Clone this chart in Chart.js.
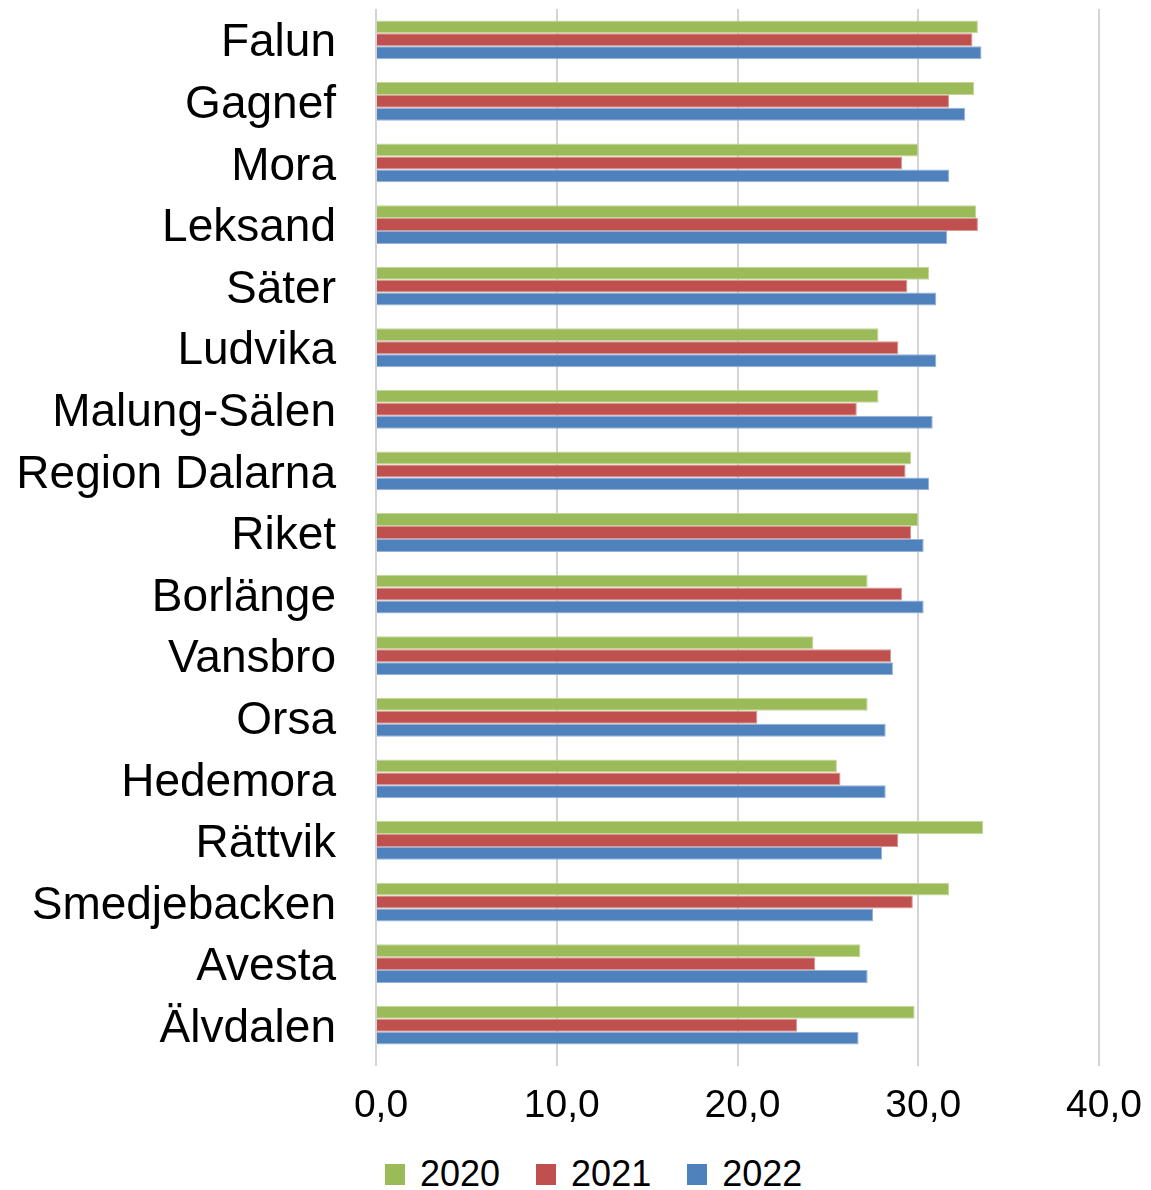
<!DOCTYPE html>
<html lang="sv">
<head>
<meta charset="utf-8">
<title>Dalarna 2020–2022</title>
<script src="https://cdn.jsdelivr.net/npm/chart.js@4/dist/chart.umd.min.js"></script>
<style>
  html, body { margin: 0; padding: 0; background: #fff; }
  #wrap { position: relative; width: 1151px; height: 1190px; }
  #plot { position: absolute; left: 0; top: 0; width: 1151px; height: 1140px; }
  #legend {
    position: absolute; left: 385px; top: 1140px; height: 68px;
    display: flex; align-items: center; gap: 36px;
    font-family: 'Liberation Sans', Arial, Helvetica, sans-serif;
    font-size: 36px; line-height: 1; color: #000;
  }
  #legend .item { display: flex; align-items: center; }
  #legend .box { width: 20px; height: 21px; margin-right: 15px; }
</style>
</head>
<body>
<div id="wrap">
  <div id="plot"><canvas id="chart"></canvas></div>
  <div id="legend"></div>
</div>
<script>
// ---------- data ----------
const kommuner = [
  "Falun", "Gagnef", "Mora", "Leksand", "Säter", "Ludvika", "Malung-Sälen",
  "Region Dalarna", "Riket", "Borlänge", "Vansbro", "Orsa", "Hedemora",
  "Rättvik", "Smedjebacken", "Avesta", "Älvdalen"
];
const years = ["2020", "2021", "2022"];
const values2020 = [33.3, 33.1, 30.0, 33.2, 30.6, 27.8, 27.8, 29.6, 30.0, 27.2, 24.2, 27.2, 25.5, 33.6, 31.7, 26.8, 29.8];
const values2021 = [33.0, 31.7, 29.1, 33.3, 29.4, 28.9, 26.6, 29.3, 29.6, 29.1, 28.5, 21.1, 25.7, 28.9, 29.7, 24.3, 23.3];
const values2022 = [33.5, 32.6, 31.7, 31.6, 31.0, 31.0, 30.8, 30.6, 30.3, 30.3, 28.6, 28.2, 28.2, 28.0, 27.5, 27.2, 26.7];
const xTicks = [0, 10, 20, 30, 40];

// ---------- styling ----------
const FONT = "'Liberation Sans', Arial, Helvetica, sans-serif";
const colors = ["#9BBB59", "#C0504D", "#4F81BD"];
const edges = ["#C3D69B", "#D99694", "#95B3D7"];
const gridColor = "#D4D4D4";
const fmt = (v) => v.toFixed(1).replace(".", ",");

const series = [values2020, values2021, values2022];

const chart = new Chart(document.getElementById("chart"), {
  type: "bar",
  data: {
    labels: kommuner,
    datasets: years.map((y, i) => ({
      label: y,
      data: series[i],
      backgroundColor: colors[i],
      borderColor: edges[i],
      borderWidth: 1,
      categoryPercentage: 0.63,
      barPercentage: 1.0
    }))
  },
  options: {
    indexAxis: "y",
    responsive: true,
    maintainAspectRatio: false,
    animation: false,
    devicePixelRatio: 1,
    layout: { padding: { top: 9, right: 52, left: 0, bottom: 0 } },
    scales: {
      x: {
        min: 0,
        max: 40,
        afterBuildTicks: (axis) => { axis.ticks = xTicks.map((v) => ({ value: v })); },
        afterFit: (axis) => {
          axis.height = 84;
          // the right edge is set by layout padding instead
          axis.paddingLeft = 0;
          axis.paddingRight = 0;
        },
        grid: { color: gridColor, lineWidth: 2, drawTicks: true, tickLength: 10, tickColor: gridColor },
        border: { display: false },
        ticks: {
          color: "#000",
          padding: 17,
          labelOffset: 5,
          maxRotation: 0,
          font: { family: FONT, size: 39 },
          callback: (v) => fmt(v)
        }
      },
      y: {
        afterFit: (axis) => {
          axis.width = 376;
          // labels may overhang the plot edges
          axis.paddingTop = 0;
          axis.paddingBottom = 0;
        },
        grid: { display: false, drawTicks: false },
        border: { display: false },
        ticks: {
          color: "#000",
          padding: 40,
          labelOffset: 4,
          autoSkip: false,
          font: { family: FONT, size: 46 }
        }
      }
    },
    plugins: {
      legend: { display: false },
      tooltip: { enabled: false }
    }
  }
});

// ---------- legend (HTML, built from the datasets) ----------
const legendEl = document.getElementById("legend");
legendEl.innerHTML = chart.data.datasets
  .map((ds) => `<span class="item"><span class="box" style="background:${ds.backgroundColor}"></span>${ds.label}</span>`)
  .join("");
</script>
</body>
</html>
